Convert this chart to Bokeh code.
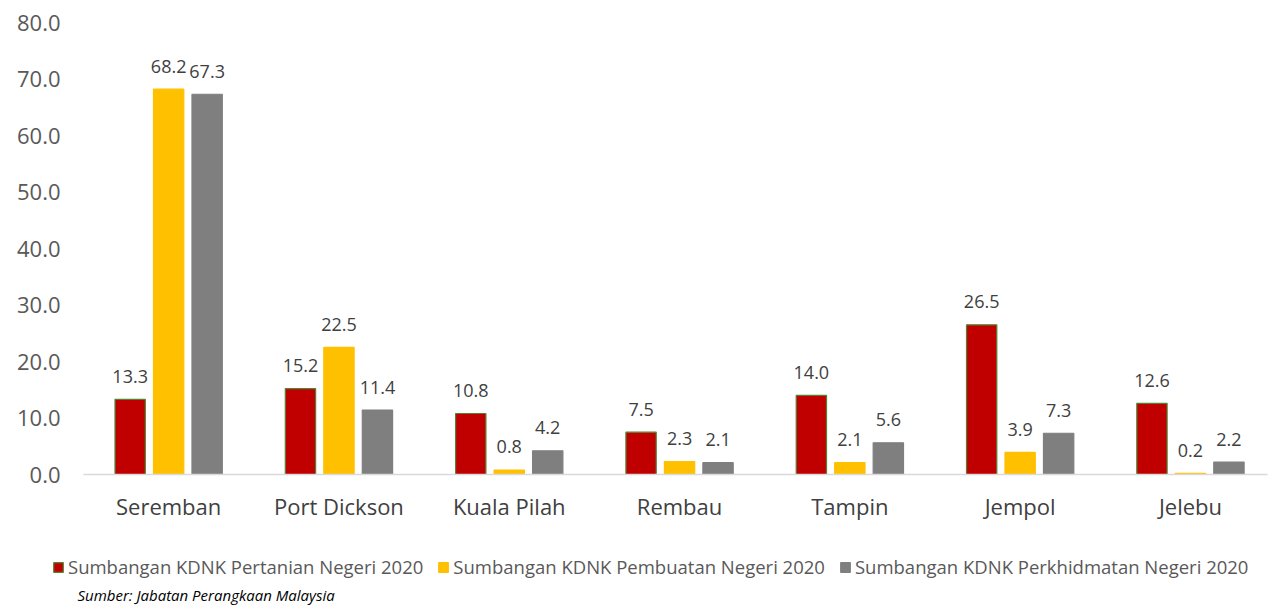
from bokeh.plotting import figure
from bokeh.models import (ColumnDataSource, LabelSet, Label, Legend, LegendItem,
                          FixedTicker, NumeralTickFormatter, Range1d)
from bokeh.core.properties import value
from bokeh.transform import dodge
from bokeh.embed import file_html
from bokeh.resources import INLINE

districts = ["Seremban", "Port Dickson", "Kuala Pilah", "Rembau", "Tampin", "Jempol", "Jelebu"]
pertanian = [13.3, 15.2, 10.8, 7.5, 14.0, 26.5, 12.6]
pembuatan = [68.2, 22.5, 0.8, 2.3, 2.1, 3.9, 0.2]
perkhidmatan = [67.3, 11.4, 4.2, 2.1, 5.6, 7.3, 2.2]
series_names = ["Sumbangan KDNK Pertanian Negeri 2020",
                "Sumbangan KDNK Pembuatan Negeri 2020",
                "Sumbangan KDNK Perkhidmatan Negeri 2020"]
y_ticks = [0, 10, 20, 30, 40, 50, 60, 70, 80]
source_note = "Sumber: Jabatan Perangkaan Malaysia"

FONT = "Open Sans"
W, H = 1270, 608
PX_X = 170.3            # pixels per category
PX_Y = 452 / 80         # pixels per unit
X0_PX, Y0_PX = 83, 474  # pixel position of (x=-0.5, y=0)

idx = list(range(len(districts)))
src = ColumnDataSource(dict(
    idx=idx,
    pertanian=pertanian, pembuatan=pembuatan, perkhidmatan=perkhidmatan,
    pertanian_t=["%.1f" % v for v in pertanian],
    pembuatan_t=["%.1f" % v for v in pembuatan],
    perkhidmatan_t=["%.1f" % v for v in perkhidmatan],
))

x_start = -0.5 - X0_PX / PX_X
x_end = -0.5 + (W - X0_PX) / PX_X
y_start = -(H - Y0_PX) / PX_Y
y_end = Y0_PX / PX_Y

p = figure(width=W, height=H, output_backend="svg", toolbar_location=None,
           x_range=Range1d(x_start, x_end), y_range=Range1d(y_start, y_end),
           min_border=0)
p.outline_line_color = None
p.xgrid.visible = False
p.ygrid.visible = False

off = 0.226
bw = 0.178
cols = [("pertanian", "#C00000", "#548235"),
        ("pembuatan", "#FFC000", "#FFC000"),
        ("perkhidmatan", "#7F7F7F", "#7F7F7F")]
renderers = []
for k, (field, fill, line) in enumerate(cols):
    d = (k - 1) * off
    r = p.vbar(x=dodge("idx", d), top=field, width=bw, source=src,
               fill_color=fill, line_color=line, line_width=1.2)
    renderers.append(r)
    p.add_layout(LabelSet(x=dodge("idx", d), y=field, text=field + "_t", source=src,
                          text_align="center", text_baseline="middle", y_offset=23,
                          text_font=value(FONT), text_font_size="18px", text_color="#404040"))

p.xaxis.fixed_location = 0
p.xaxis.bounds = (-0.5, 6.45)
p.xaxis.ticker = FixedTicker(ticks=idx)
p.xaxis.major_label_overrides = {i: n for i, n in enumerate(districts)}
p.xaxis.axis_line_color = "#d9d9d9"
p.xaxis.axis_line_width = 1.5
p.xaxis.major_tick_line_color = None
p.xaxis.minor_tick_line_color = None
p.xaxis.major_tick_out = 0
p.xaxis.major_tick_in = 0
p.xaxis.major_label_text_font = FONT
p.xaxis.major_label_text_font_size = "22px"
p.xaxis.major_label_text_color = "#404040"
p.xaxis.major_label_standoff = 16

p.yaxis.fixed_location = -0.5
p.yaxis.bounds = (0, 80)
p.yaxis.ticker = FixedTicker(ticks=y_ticks)
p.yaxis.formatter = NumeralTickFormatter(format="0.0")
p.yaxis.axis_line_color = None
p.yaxis.major_tick_line_color = None
p.yaxis.minor_tick_line_color = None
p.yaxis.major_tick_out = 0
p.yaxis.major_tick_in = 0
p.yaxis.major_label_text_font = FONT
p.yaxis.major_label_text_font_size = "22px"
p.yaxis.major_label_text_color = "#595959"
p.yaxis.major_label_standoff = 23

legend = Legend(items=[LegendItem(label=n, renderers=[r]) for n, r in zip(series_names, renderers)],
                orientation="horizontal", location=(52, 29),
                padding=0, margin=0, spacing=14, label_standoff=4,
                glyph_width=12, glyph_height=12,
                label_text_font=FONT, label_text_font_size="18.5px", label_text_color="#595959",
                border_line_color=None, background_fill_alpha=0)
p.add_layout(legend, "center")

p.add_layout(Label(x=x_start + 77 / PX_X, y=-(594 - Y0_PX) / PX_Y, text=source_note,
                   text_font=FONT, text_font_size="15px", text_font_style="italic",
                   text_color="#000000", text_baseline="alphabetic"))

open("out.html", "w").write(file_html(p, INLINE))
